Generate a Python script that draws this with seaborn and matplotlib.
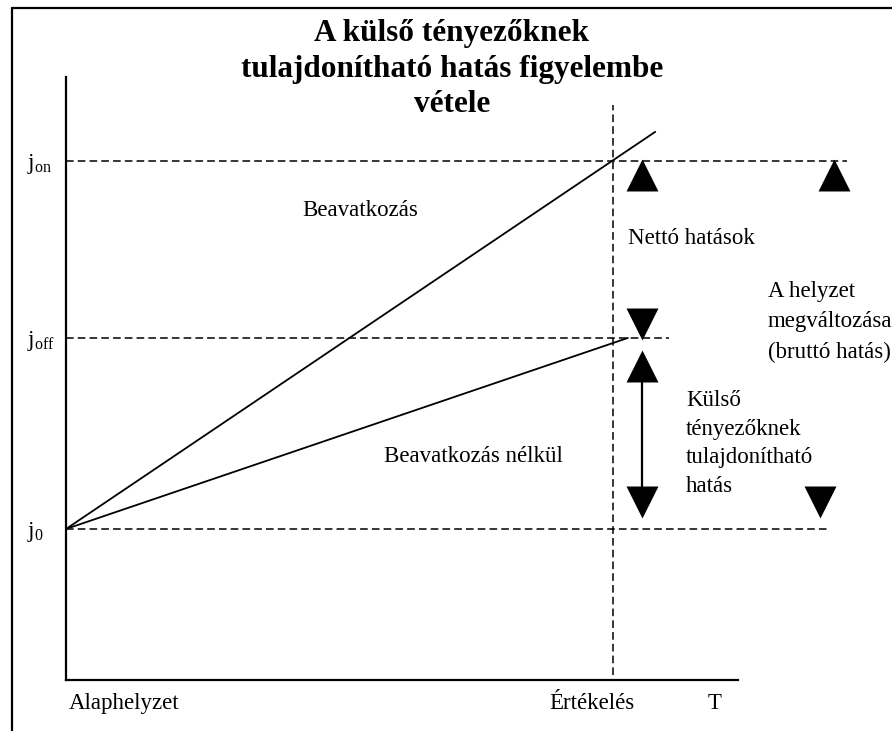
import numpy as np
import pandas as pd
import matplotlib.pyplot as plt
import matplotlib.lines as mlines
import seaborn as sns

# idő tengely: 0 = alaphelyzet, 1 = értékelés; szint: j0 = 0, jon = 1
t_beav = [0, 1.077]
y_beav = [0, 1.079]
t_nelkul = [0, 1.027]
y_nelkul = [0, 0.519]

level_labels = [r'$\mathregular{j_0}$', r'$\mathregular{j_{off}}$', r'$\mathregular{j_{on}}$']
levels = [0, 0.519, 1.0]
level_ends = [1.393, 1.102, 1.428]
t_eval = 1.0
t_end = 1.229

x_labels = ['Alaphelyzet', 'Értékelés', 'T']
x_label_pos = [0.005, 0.961, 1.185]

# nyilak (háromszögek)
up_x = [1.053, 1.404, 1.053]
up_y = [0.963, 0.963, 0.442]
down_x = [1.053, 1.053, 1.378]
down_y = [0.557, 0.072, 0.072]

title_lines = ['A külső tényezőknek', 'tulajdonítható hatás figyelembe', 'vétele']

sns.set_theme(style='white')
plt.rcParams['font.family'] = ['Liberation Serif', 'DejaVu Serif']
plt.rcParams['mathtext.default'] = 'regular'
for key in ['text.color', 'axes.labelcolor', 'xtick.color', 'ytick.color']:
    plt.rcParams[key] = 'black'

fig = plt.figure(figsize=(8.92, 7.31), dpi=100)
ax = fig.add_axes([66 / 892, 51 / 731, 819 / 892, 603 / 731])
ax.set_xlim(0, 1.497)
ax.set_ylim(-0.4103, 1.228)

dash = (0, (5, 2.7))
for lv, end in zip(levels, level_ends):
    ax.plot([0, end], [lv, lv], color='black', lw=1.1, linestyle=dash)
ax.plot([t_eval, t_eval], [-0.397, 1.152], color='black', lw=1.1, linestyle=dash)

sns.lineplot(x=t_beav, y=y_beav, color='black', lw=1.3, ax=ax)
sns.lineplot(x=t_nelkul, y=y_nelkul, color='black', lw=1.3, ax=ax)

# kettős nyíl szára
sns.lineplot(x=[up_x[2], down_x[1]], y=[up_y[2], down_y[1]], color='black', lw=1.6,
             estimator=None, sort=False, ax=ax)
sns.scatterplot(x=up_x, y=up_y, marker='^', s=530, color='black', linewidth=0, ax=ax)
sns.scatterplot(x=down_x, y=down_y, marker='v', s=530, color='black', linewidth=0, ax=ax)

fs = 16.5
ax.text(0.431, 0.864, 'Beavatkozás', fontsize=fs, va='center')
ax.text(0.581, 0.196, 'Beavatkozás nélkül', fontsize=fs, va='center')
ax.text(1.027, 0.788, 'Nettó hatások', fontsize=fs, va='center')
ax.text(1.283, 0.5625, 'A helyzet\nmegváltozása\n(bruttó hatás)', fontsize=fs,
        va='center', linespacing=1.6)
ax.text(1.133, 0.232, 'Külső\ntényezőknek\ntulajdonítható\nhatás', fontsize=fs,
        va='center', linespacing=1.48)

ax.set_yticks(levels)
ax.set_yticklabels(level_labels, fontsize=fs)
for lbl in ax.get_yticklabels():
    lbl.set_ha('left')
ax.tick_params(axis='y', length=0, pad=28)
ax.set_xticks([])
for xp, lab, ha in zip(x_label_pos, x_labels, ['left', 'center', 'center']):
    ax.text(xp, -0.475, lab, fontsize=fs, ha=ha, va='center')

sns.despine(ax=ax)
ax.spines['left'].set_bounds(-0.4103, 1.228)
ax.spines['bottom'].set_bounds(0, t_end)
for s in ['left', 'bottom']:
    ax.spines[s].set_color('black')
    ax.spines[s].set_linewidth(1.6)
ax.set_xlabel('')
ax.set_ylabel('')
ax.grid(False)

for i, line in enumerate(title_lines):
    fig.text(452 / 892, 1 - (34 + 35.5 * i) / 731, line, fontsize=22.5,
             fontweight='bold', ha='center', va='center')

# keret
fig.add_artist(mlines.Line2D([12 / 892, 12 / 892], [0, 1 - 8 / 731], color='black', lw=1.6))
fig.add_artist(mlines.Line2D([12 / 892, 1], [1 - 8 / 731, 1 - 8 / 731], color='black', lw=1.6))

fig.savefig('out.png', dpi=100)
